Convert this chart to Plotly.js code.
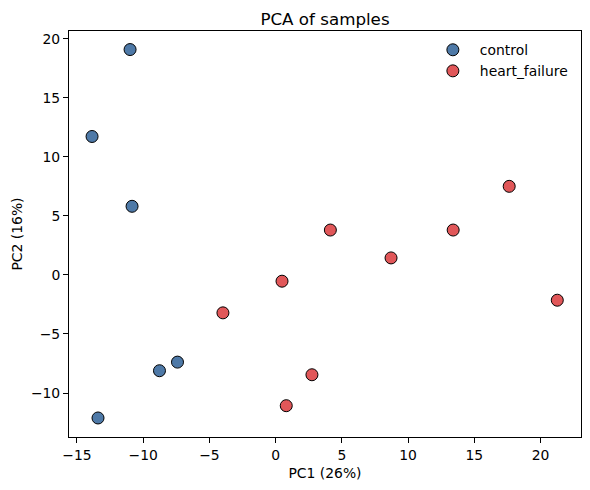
<!DOCTYPE html>
<html>
<head>
<meta charset="utf-8">
<script src="https://cdn.plot.ly/plotly-3.0.1.min.js"></script>
<style>
  html, body { margin: 0; padding: 0; background: #ffffff; }
  #chart { width: 590px; height: 490px; }
</style>
</head>
<body>
<div id="chart"></div>
<script>
// PCA scores per sample group
const controlPC1 = [-10.99, -13.86, -10.84, -7.41, -8.77, -13.41];
const controlPC2 = [19.08, 11.72, 5.81, -7.38, -8.11, -12.11];

const hfPC1 = [0.48, -3.98, 0.80, 2.74, 8.71, 21.26, 4.13, 13.40, 17.63];
const hfPC2 = [-0.53, -3.21, -11.07, -8.45, 1.44, -2.14, 3.80, 3.80, 7.50];

const groupNames = ["control", "heart_failure"];
const groupColors = ["#4e79a7", "#e15759"];

const xTicks = [-15, -10, -5, 0, 5, 10, 15, 20];
const yTicks = [-10, -5, 0, 5, 10, 15, 20];

const FONT = "DejaVu Sans, sans-serif";

function group(x, y, i) {
  return {
    type: "scatter",
    mode: "markers",
    name: groupNames[i],
    x: x,
    y: y,
    marker: {
      size: 12,
      color: groupColors[i],
      line: { color: "#000000", width: 1 }
    },
    hoverinfo: "x+y+name"
  };
}

const data = [
  group(controlPC1, controlPC2, 0),
  group(hfPC1, hfPC2, 1)
];

const axisCommon = {
  showgrid: false,
  zeroline: false,
  showline: true,
  linecolor: "#000000",
  linewidth: 1,
  mirror: true,
  ticks: "outside",
  ticklen: 5,
  tickwidth: 1,
  tickcolor: "#000000",
  tickfont: { family: FONT, size: 13.9, color: "#000000" },
  automargin: false
};

const layout = {
  width: 590,
  height: 490,
  paper_bgcolor: "#ffffff",
  plot_bgcolor: "#ffffff",
  margin: { l: 69.3, r: 9.3, t: 30.7, b: 52.7 },
  font: { family: FONT, color: "#000000" },
  title: {
    text: "PCA of samples",
    font: { family: FONT, size: 16.7, color: "#000000" },
    x: 0.5,
    xref: "paper",
    xanchor: "center",
    y: 1,
    yref: "paper",
    yanchor: "bottom",
    pad: { b: 6 }
  },
  xaxis: Object.assign({}, axisCommon, {
    range: [-15.6, 23.05],
    tickvals: xTicks,
    ticktext: xTicks.map(v => v < 0 ? "\u2212" + Math.abs(v) : String(v)),
    title: { text: "PC1 (26%)", font: { family: FONT, size: 13.9 }, standoff: 6 }
  }),
  yaxis: Object.assign({}, axisCommon, {
    range: [-13.72, 20.65],
    tickvals: yTicks,
    ticktext: yTicks.map(v => v < 0 ? "\u2212" + Math.abs(v) : String(v)),
    title: { text: "PC2 (16%)", font: { family: FONT, size: 13.9 }, standoff: 5 }
  }),
  showlegend: true,
  legend: {
    x: 0.697,
    xanchor: "left",
    y: 0.992,
    yanchor: "top",
    bgcolor: "rgba(255,255,255,0)",
    borderwidth: 0,
    itemwidth: 44,
    font: { family: FONT, size: 13.9, color: "#000000" },
    tracegroupgap: 0
  }
};

Plotly.newPlot("chart", data, layout, { displayModeBar: false, staticPlot: true });
</script>
</body>
</html>
